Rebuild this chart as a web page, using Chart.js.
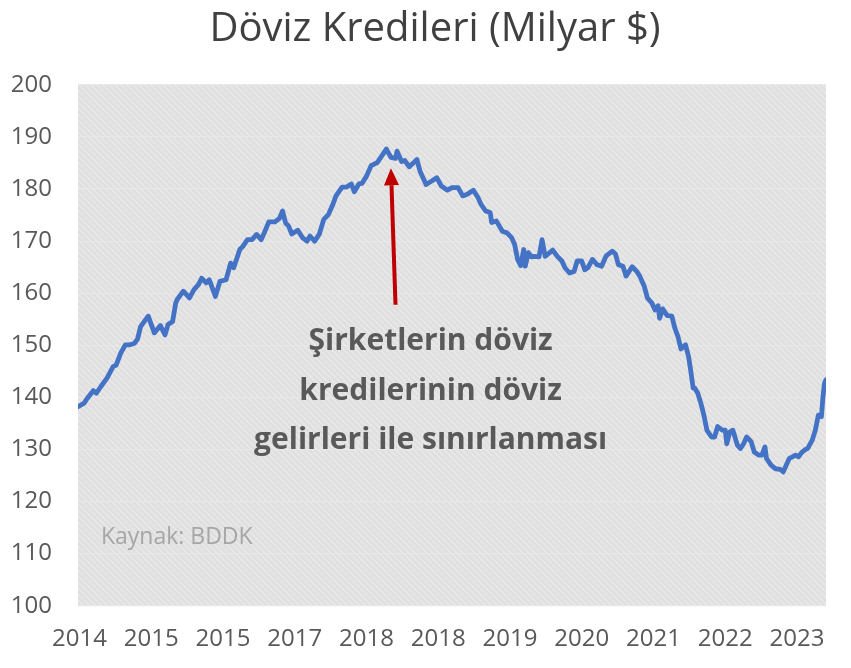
<!DOCTYPE html>
<html>
<head>
<meta charset="utf-8">
<script src="https://cdn.jsdelivr.net/npm/chart.js@4.4.1/dist/chart.umd.min.js"></script>
<style>
  html, body { margin: 0; padding: 0; background: #ffffff; }
  #c { display: block; }
</style>
</head>
<body>
<canvas id="c" width="851" height="668"></canvas>
<script>
// ---- DATA (week index since start of 2014, loan stock in billion $) ----
const weeks = [0,4,6,10,12,15,19,23,25,28,31,34,37,39,41,46,50,54,57,59,62,64,65,69,73,76,79,81,84,86,90,93,97,100,102,106,108,111,114,117,120,122,125,129,132,134,136,138,140,144,147,150,152,155,158,161,164,167,169,173,176,179,181,184,186,189,192,196,199,202,205,208,209,212,214,217,220,222,224,226,228,232,235,238,242,245,249,252,255,259,262,264,267,270,271,274,278,281,284,286,288,290,292,293,295,297,299,302,304,306,309,311,314,317,319,322,325,327,330,332,334,337,340,343,346,350,352,354,357,359,363,366,368,371,373,376,378,380,381,383,386,389,391,393,395,398,400,401,403,404,406,408,410,412,415,417,419,422,424,425,427,429,432,434,436,438,441,443,446,448,450,451,454,457,460,462,464,466,468,470,472,474,476,478,481,483,485,487,488,489,490];
const values = [138.2,138.9,139.8,141.3,140.8,142.1,143.7,145.9,146.2,148.5,150.1,150.1,150.4,151.2,153.6,155.6,152.4,153.8,152.0,154.0,154.6,158.1,158.8,160.4,159.1,160.7,161.7,162.9,162.0,162.6,159.4,162.3,162.6,165.8,164.9,168.4,169.0,170.3,170.3,171.3,170.3,171.6,173.7,173.7,174.4,175.8,173.5,172.9,171.4,172.1,170.7,170.0,171.0,170.0,171.3,174.2,175.1,177.1,178.7,180.4,180.4,181.0,179.5,181.0,181.1,182.5,184.5,185.1,186.4,187.7,186.1,185.9,187.3,185.3,185.5,184.3,185.1,185.7,183.5,182.2,180.9,181.6,182.2,180.6,179.8,180.3,180.3,178.7,179.0,179.8,178.4,177.1,175.8,175.5,173.6,173.9,171.9,171.6,170.7,169.4,166.5,165.3,168.4,165.2,167.8,167.0,167.1,167.0,170.3,167.1,167.8,168.3,167.1,166.2,164.9,163.9,164.2,166.2,166.2,164.5,164.9,166.5,165.5,165.2,167.2,168.1,167.6,165.5,165.2,163.3,165.1,164.2,163.3,161.3,159.1,158.1,156.8,157.6,155.2,157.0,155.7,155.6,153.3,151.7,149.3,150.1,147.8,145.9,141.8,141.8,140.8,138.9,136.6,133.7,132.4,132.4,134.4,133.7,133.7,131.1,133.4,133.7,130.8,130.2,131.1,132.4,131.5,129.5,128.9,128.9,130.5,128.3,127.0,126.3,126.2,125.7,127.0,128.3,128.6,128.9,128.6,129.4,129.9,130.2,131.8,133.7,136.6,136.3,140.1,142.7,143.4];
const tickWeeks = [1,48,95,142,189,236,283,330,377,424,471];
const tickLabels = ['2014','2015','2015','2017','2018','2018','2019','2020','2021','2022','2023'];
const titleText = 'Döviz Kredileri (Milyar $)';
const noteLines = ['Şirketlerin döviz', 'kredilerinin döviz', 'gelirleri ile sınırlanması'];
const sourceText = 'Kaynak: BDDK';

const points = weeks.map((w, i) => ({ x: w, y: values[i] }));

// hatched plot background
function makePattern(ctx) {
  const s = 6;
  const pc = document.createElement('canvas');
  pc.width = s; pc.height = s;
  const p = pc.getContext('2d');
  p.fillStyle = '#dfdfdf';
  p.fillRect(0, 0, s, s);
  p.strokeStyle = '#e8e8e8';
  p.lineWidth = 1.6;
  p.beginPath();
  p.moveTo(-1, -1); p.lineTo(s + 1, s + 1);
  p.moveTo(-1, s - 1); p.lineTo(1, s + 1);
  p.moveTo(s - 1, -1); p.lineTo(s + 1, 1);
  p.stroke();
  return ctx.createPattern(pc, 'repeat');
}

const bgPlugin = {
  id: 'bg',
  beforeDraw(chart) {
    // let the y tick labels extend left of the (narrow) axis box
    chart.scales.y._computeLabelArea = () => null;
    const { ctx, chartArea: a } = chart;
    ctx.save();
    ctx.fillStyle = makePattern(ctx);
    ctx.fillRect(a.left, a.top, a.right - a.left, a.bottom - a.top);
    ctx.restore();
  }
};

const notePlugin = {
  id: 'notes',
  afterDatasetsDraw(chart) {
    const { ctx, scales: { x, y } } = chart;
    ctx.save();
    // arrow
    const x0 = x.getPixelForValue(208), y0 = y.getPixelForValue(157.8);
    const x1 = x.getPixelForValue(205), y1 = y.getPixelForValue(184.0);
    const ang = Math.atan2(y1 - y0, x1 - x0);
    const headLen = 17, headW = 7.5;
    const bx = x1 - headLen * Math.cos(ang), by = y1 - headLen * Math.sin(ang);
    ctx.strokeStyle = '#c00000';
    ctx.fillStyle = '#c00000';
    ctx.lineWidth = 4;
    ctx.beginPath();
    ctx.moveTo(x0, y0); ctx.lineTo(bx, by);
    ctx.stroke();
    ctx.beginPath();
    ctx.moveTo(x1, y1);
    ctx.lineTo(bx + headW * Math.sin(ang), by - headW * Math.cos(ang));
    ctx.lineTo(bx - headW * Math.sin(ang), by + headW * Math.cos(ang));
    ctx.closePath();
    ctx.fill();
    // note text
    ctx.fillStyle = '#595959';
    ctx.font = 'bold 30px "Open Sans"';
    ctx.textAlign = 'center';
    ctx.textBaseline = 'middle';
    const tx = x.getPixelForValue(231);
    [150.7, 141.2, 131.8].forEach((v, i) => {
      ctx.fillText(noteLines[i], tx, y.getPixelForValue(v));
    });
    // source
    ctx.fillStyle = '#a6a6a6';
    ctx.font = '23px "Open Sans"';
    ctx.textAlign = 'left';
    ctx.fillText(sourceText, x.getPixelForValue(15), y.getPixelForValue(113.1));
    ctx.restore();
  }
};

new Chart(document.getElementById('c'), {
  type: 'line',
  data: {
    datasets: [{
      data: points,
      borderColor: '#4472c4',
      borderWidth: 4.8,
      pointRadius: 0,
      tension: 0,
      borderJoinStyle: 'round',
      borderCapStyle: 'round',
      fill: false
    }]
  },
  options: {
    responsive: false,
    animation: false,
    layout: { padding: { left: 44, right: 25, top: 0, bottom: 17.3 } },
    plugins: {
      legend: { display: false },
      tooltip: { enabled: false },
      title: {
        display: true,
        text: titleText,
        color: '#404040',
        font: { family: 'Open Sans', size: 40, weight: 'normal' },
        padding: { top: 6, bottom: 31 }
      }
    },
    scales: {
      x: {
        type: 'linear',
        min: 0,
        max: 490,
        grid: { display: false },
        border: { display: false },
        afterBuildTicks(scale) { scale.ticks = tickWeeks.map(v => ({ value: v })); },
        afterFit(scale) { scale.height = 45; },
        ticks: {
          autoSkip: false,
          maxRotation: 0,
          padding: 11,
          color: '#595959',
          font: { family: 'Open Sans', size: 24 },
          callback: (v, i) => tickLabels[i]
        }
      },
      y: {
        min: 100,
        max: 200,
        afterFit(scale) { scale.width = 34; },
        grid: { color: '#e8e8e8', lineWidth: 1.3, drawTicks: false },
        border: { display: false },
        ticks: {
          stepSize: 10,
          padding: 26,
          color: '#595959',
          font: { family: 'Open Sans', size: 24 }
        }
      }
    }
  },
  plugins: [bgPlugin, notePlugin]
});
</script>
</body>
</html>
